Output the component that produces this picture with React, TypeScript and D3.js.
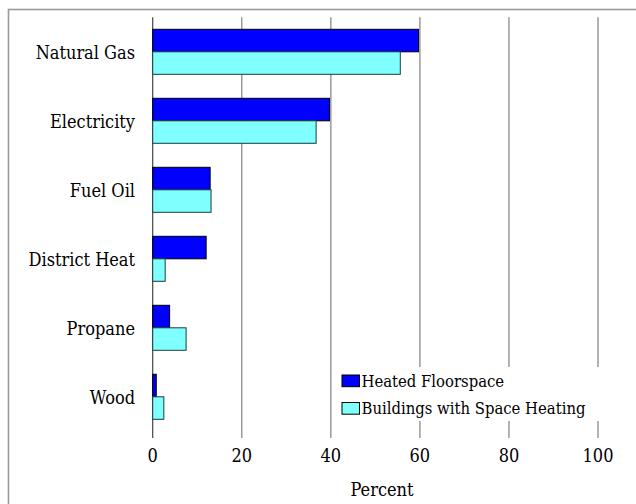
import { useRef, useEffect } from "react";
import * as d3 from "d3";

const categories = ["Natural Gas", "Electricity", "Fuel Oil", "District Heat", "Propane", "Wood"];
const seriesNames = ["Heated Floorspace", "Buildings with Space Heating"];
const heatedFloorspace = [59.7, 39.7, 12.9, 12.0, 3.8, 0.8];
const buildingsWithHeating = [55.6, 36.7, 13.1, 2.8, 7.5, 2.5];
const xTicks = [0, 20, 40, 60, 80, 100];
const colors = ["#0000ff", "#80ffff"];

export default function App() {
  const svgRef = useRef<SVGSVGElement>(null);

  useEffect(() => {
    if (!svgRef.current) return;
    const svg = d3.select(svgRef.current);
    svg.selectAll("*").remove();

    const width = 636;
    const height = 504;
    svg.attr("width", width).attr("height", height)
      .style("font-family", '"DejaVu Serif Condensed", "DejaVu Serif", serif')
      .style("font-stretch", "condensed");

    // outer frame, runs off the right/bottom edge like the original
    svg.append("rect")
      .attr("x", 8.5).attr("y", 9.5)
      .attr("width", 700).attr("height", 600)
      .attr("fill", "white")
      .attr("stroke", "#999").attr("stroke-width", 1.6);

    const x = d3.scaleLinear().domain([0, 100]).range([152.7, 598]);
    const y = d3.scaleBand<string>()
      .domain(categories)
      .range([17.3, 431.3])
      .paddingInner(24 / 69)
      .paddingOuter(12 / 69);
    const ySub = d3.scaleBand<number>().domain([0, 1]).range([0, y.bandwidth()]);

    const gridTop = 17.3;
    const gridBottom = 438;

    // gridlines
    xTicks.forEach((t) => {
      svg.append("line")
        .attr("x1", x(t)).attr("x2", x(t))
        .attr("y1", gridTop).attr("y2", gridBottom)
        .attr("stroke", t === 0 ? "#444" : "#9a9a9a")
        .attr("stroke-width", t === 0 ? 1.2 : 1.5);
      svg.append("text")
        .attr("x", x(t)).attr("y", 462)
        .attr("text-anchor", "middle")
        .attr("font-size", 18)
        .attr("fill", "#000")
        .text(String(t));
    });

    const series = [heatedFloorspace, buildingsWithHeating];
    categories.forEach((c, i) => {
      const y0 = y(c)!;
      series.forEach((vals, s) => {
        svg.append("rect")
          .attr("x", x(0))
          .attr("y", y0 + ySub(s)!)
          .attr("width", x(vals[i]) - x(0))
          .attr("height", ySub.bandwidth())
          .attr("fill", colors[s])
          .attr("stroke", s === 0 ? "#000" : "#1c3c3c")
          .attr("stroke-width", 1);
      });
      svg.append("text")
        .attr("x", 135)
        .attr("y", y0 + y.bandwidth() / 2 + 7)
        .attr("text-anchor", "end")
        .attr("font-size", 18)
        .attr("fill", "#000")
        .text(c);
    });

    // legend
    svg.append("rect")
      .attr("x", 334).attr("y", 367)
      .attr("width", 268).attr("height", 54)
      .attr("fill", "white");
    const legendBaselines = [386.5, 414];
    seriesNames.forEach((name, s) => {
      svg.append("rect")
        .attr("x", 342).attr("y", legendBaselines[s] - 11.5)
        .attr("width", 17.5).attr("height", 11.7)
        .attr("fill", colors[s])
        .attr("stroke", "#000").attr("stroke-width", 1);
      svg.append("text")
        .attr("x", 361.5).attr("y", legendBaselines[s])
        .attr("font-size", 16.5)
        .attr("fill", "#000")
        .text(name);
    });

    svg.append("text")
      .attr("x", 382).attr("y", 495.5)
      .attr("text-anchor", "middle")
      .attr("font-size", 18)
      .attr("fill", "#000")
      .text("Percent");
  }, []);

  return <svg ref={svgRef} style={{ position: "absolute", left: 0, top: 0 }} />;
}
